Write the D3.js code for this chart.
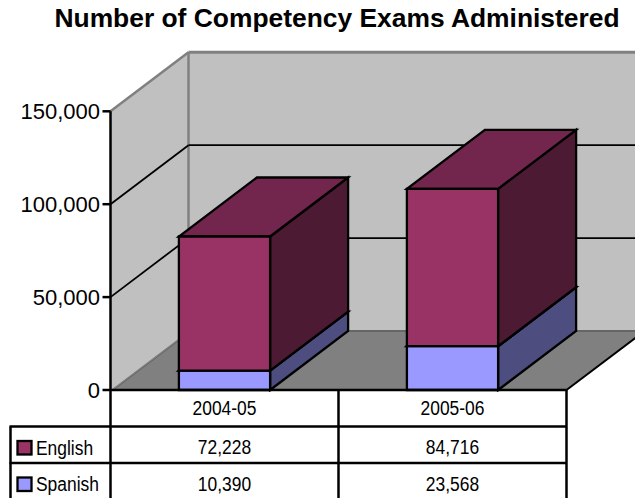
<!DOCTYPE html>
<html>
<head>
<meta charset="utf-8">
<script src="https://d3js.org/d3.v7.min.js"></script>
<style>
html, body { margin: 0; padding: 0; background: #fff; overflow: hidden; }
svg { display: block; }
</style>
</head>
<body>
<div id="chart"></div>
<script>
var categories = ["2004-05", "2005-06"];
var english = [72228, 84716];
var spanish = [10390, 23568];
var yTicks = [0, 50000, 100000, 150000];
var titleText = "Number of Competency Exams Administered";

var width = 635, height = 498;
var left = 110.5, right = 566.5, floorY = 390, topY = 111.3;
var depthX = 78, depthY = 59;

var svg = d3.select("#chart").append("svg")
    .attr("width", width)
    .attr("height", height);

var y = d3.scaleLinear().domain([0, 150000]).range([floorY, topY]);
var x = d3.scaleBand().domain(categories).range([left, right]);
var barWidth = x.bandwidth() / 2.5;

function pts(a) {
    return a.map(function (p) { return p.join(","); }).join(" ");
}
function poly(a, fill, stroke, sw) {
    return svg.append("polygon")
        .attr("points", pts(a))
        .attr("fill", fill)
        .attr("stroke", stroke || "none")
        .attr("stroke-width", sw || 0)
        .attr("stroke-linejoin", "miter");
}
function line(x1, y1, x2, y2, color, sw) {
    return svg.append("line")
        .attr("x1", x1).attr("y1", y1).attr("x2", x2).attr("y2", y2)
        .attr("stroke", color).attr("stroke-width", sw);
}

// walls and floor
poly([[left, floorY], [left + depthX, floorY - depthY], [left + depthX, topY - depthY], [left, topY]], "#c0c0c0");
poly([[left + depthX, floorY - depthY], [right + depthX, floorY - depthY], [right + depthX, topY - depthY], [left + depthX, topY - depthY]], "#c0c0c0");
poly([[left, floorY], [right, floorY], [right + depthX, floorY - depthY], [left + depthX, floorY - depthY]], "#808080");

// wall edges
line(left, topY, left + depthX, topY - depthY, "#808080", 2.5);
line(left + depthX, topY - depthY, left + depthX, floorY - depthY, "#808080", 2.5);
line(left + depthX, topY - depthY, width, topY - depthY, "#808080", 3);
line(left + 3, floorY, left + depthX + 3, floorY - depthY, "#666", 1);
line(left + depthX, floorY - depthY, width, floorY - depthY, "#666", 2);

// gridlines
yTicks.slice(1, 3).forEach(function (t) {
    line(left, y(t), left + depthX, y(t) - depthY, "#000", 1.8);
    line(left + depthX, y(t) - depthY, width, y(t) - depthY, "#000", 1.8);
});
line(right, floorY, right + depthX, floorY - depthY, "#000", 2);

// stacked boxes
function box(x0, v0, v1, front, side, top) {
    var x1 = x0 + barWidth, y0 = y(v0), y1 = y(v1);
    poly([[x1, y0], [x1 + depthX, y0 - depthY], [x1 + depthX, y1 - depthY], [x1, y1]], side, "#000", 2.3);
    poly([[x0, y1], [x1, y1], [x1 + depthX, y1 - depthY], [x0 + depthX, y1 - depthY]], top, "#000", 2.3);
    poly([[x0, y0], [x1, y0], [x1, y1], [x0, y1]], front, "#000", 2.3);
}
categories.forEach(function (c, i) {
    var x0 = x(c) + (x.bandwidth() - barWidth) / 2;
    box(x0, 0, spanish[i], "#9999ff", "#4d4d80", "#737ac0");
    box(x0, spanish[i], spanish[i] + english[i], "#993366", "#4d1a33", "#73264d");
});

// value axis
yTicks.forEach(function (t) {
    line(left - 8, y(t), left, y(t), "#000", 2.5);
    svg.append("text")
        .attr("x", left - 10.5)
        .attr("y", y(t) + 7.5)
        .attr("text-anchor", "end")
        .attr("font-family", "'Liberation Sans', Arial, sans-serif")
        .attr("font-size", 22)
        .attr("fill", "#000")
        .text(d3.format(",")(t));
});

// data table
var rowY = [390, 426.5, 463, 499.5];
var headBase = 415, englishBase = 454, spanishBase = 490.5;
var narrow = 0.83;
line(left, topY, left, height, "#000", 2.5);
line(left, floorY, right, floorY, "#000", 2.5);
rowY.slice(1).forEach(function (r) {
    line(9.5, r, right, r, "#000", 2.3);
});
line(10.5, rowY[1], 10.5, height, "#000", 2.5);
line(x(categories[1]), floorY, x(categories[1]), height, "#000", 2.5);
line(right, floorY, right, height, "#000", 2.5);

// no narrow face installed, so squeeze the regular one
function cell(cx, cy, s, anchor) {
    svg.append("text")
        .attr("transform", "translate(" + cx + "," + cy + ") scale(" + narrow + ",1)")
        .attr("text-anchor", anchor || "middle")
        .attr("font-family", "'Liberation Sans', Arial, sans-serif")
        .attr("font-size", 21)
        .attr("fill", "#000")
        .text(s);
}
categories.forEach(function (c, i) {
    var cx = x(c) + x.bandwidth() / 2;
    cell(cx, headBase, c);
    cell(cx, englishBase, d3.format(",")(english[i]));
    cell(cx, spanishBase, d3.format(",")(spanish[i]));
});
[["English", "#993366", englishBase], ["Spanish", "#9999ff", spanishBase]].forEach(function (s, i) {
    svg.append("rect")
        .attr("x", 17.5).attr("y", rowY[i + 1] + 14.5)
        .attr("width", 14).attr("height", 13.5)
        .attr("fill", s[1]).attr("stroke", "#000").attr("stroke-width", 2.3);
    cell(36, s[2] + 0.5, s[0], "start");
});

// title
svg.append("text")
    .attr("x", 337)
    .attr("y", 27)
    .attr("text-anchor", "middle")
    .attr("font-family", "'Liberation Sans', Arial, sans-serif")
    .attr("font-weight", "bold")
    .attr("font-size", 26.4)
    .attr("fill", "#000")
    .text(titleText);
</script>
</body>
</html>
